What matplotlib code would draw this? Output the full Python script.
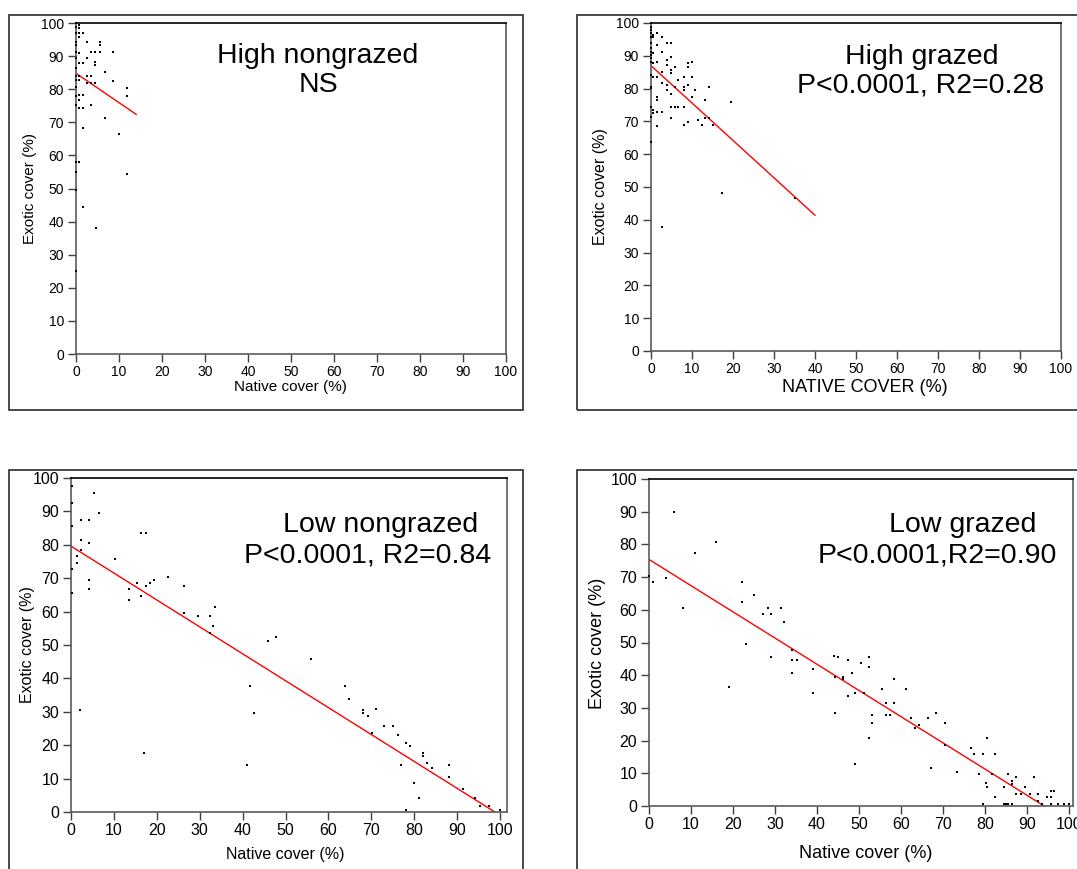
import matplotlib
matplotlib.use("Agg")
import matplotlib.pyplot as plt
from matplotlib.patches import Rectangle
import numpy as np

plt.rcParams['font.family'] = ['Liberation Sans', 'DejaVu Sans']

W, H = 1077, 869

# ---- data ----
# High nongrazed
hn_x = [0, 0, 0, 0, 0, 0, 0, 0, 0, 0, 0, 0, 0, 0, 0, 0, 0,
        0.8, 0.8, 0.8, 0.8, 0.8, 0.8, 0.8, 0.8, 0.8, 0.8, 0.8, 0.8,
        1.6, 1.6, 1.6, 1.6, 1.6, 1.7,
        2.6, 2.6, 2.6, 2.6, 3.6, 3.6, 3.6, 3.6,
        4.4, 4.4, 4.4, 4.4, 4.6, 5.5, 5.5, 5.5,
        6.8, 6.8, 8.7, 8.7, 9.9, 11.8, 11.8, 11.8]
hn_y = [99.9, 98.9, 96.9, 94.4, 93.4, 91.3, 89.3, 86.3, 83.9, 82.8, 80.8,
        75.2, 55.1, 25.2, 49.5, 58.0, 78.0,
        99.4, 98.4, 96.9, 95.9, 90.9, 87.8, 83.9, 82.8, 78.2, 76.7, 74.2, 58.1,
        96.9, 87.8, 78.2, 74.2, 68.4, 44.3,
        94.4, 89.3, 83.9, 81.8, 91.3, 83.9, 81.8, 75.2,
        91.3, 88.3, 87.3, 81.8, 38.0, 94.4, 93.4, 91.3,
        85.3, 71.2, 91.3, 82.6, 66.4, 80.3, 78.0, 54.3]
hn_fit = (84.8, -0.886, 14.0)   # intercept, slope, x end

# High grazed
hg_x = [0, 0, 0, 0, 0, 0, 0, 0, 0, 0, 0, 0, 0, 0, 0, 0, 0, 0,
        0.6, 0.6, 0.6, 0.6, 0.6, 0.6, 0.6,
        1.5, 1.5, 1.5, 1.5, 1.5, 1.5, 1.5, 1.5,
        2.7, 2.7, 2.7, 2.7, 2.7, 2.8,
        3.8, 3.8, 3.8, 3.8, 3.8,
        4.8, 4.8, 4.8, 4.8, 4.8, 4.8, 4.8,
        5.9, 5.9, 5.9, 6.7, 6.7,
        8.0, 8.0, 8.0, 8.0, 8.0,
        9.0, 9.0, 9.0, 9.0, 9.9, 9.9, 9.9, 10.8,
        11.5, 12.5, 13.2, 13.2, 14.2, 14.2, 15.1, 17.4, 19.5, 35.0]
hg_y = [100, 99.9, 98.9, 98.0, 96.8, 95.8, 93.8, 92.5, 91.3, 90.2, 89.2, 88.2,
        80.6, 80.1, 74.5, 71.4, 63.8, 84.0,
        96.3, 95.8, 90.8, 87.7, 83.6, 73.5, 72.5,
        96.8, 93.3, 88.2, 83.6, 77.5, 76.5, 73.0, 68.6,
        95.8, 91.3, 85.1, 81.6, 73.0, 37.9,
        93.8, 88.7, 87.2, 81.1, 79.5,
        93.8, 89.7, 85.7, 84.7, 78.5, 74.5, 71.0,
        86.7, 80.6, 74.5, 82.6, 74.5,
        83.6, 80.6, 79.5, 74.5, 68.9,
        87.7, 86.7, 81.1, 69.9, 88.2, 83.6, 77.5, 79.5,
        70.5, 69.0, 76.5, 71.0, 80.6, 71.0, 68.9, 48.1, 76.0, 46.5]
hg_fit = (87.0, -1.14, 40.0)

# Low nongrazed
ln_x = [0.2, 0.2, 0.2, 0.2, 0.2, 1.3, 1.3, 2.3, 2.3, 2.3, 4.3, 4.3, 4.3, 4.3,
        5.4, 6.5, 10.3, 13.4, 13.4, 15.3, 16.3, 17.4, 16.3, 17.4, 18.4, 19.4,
        22.5, 26.4, 26.4, 29.7, 32.4, 33.6, 33.0, 32.4,
        2.1, 16.9, 41.1, 41.7, 42.7, 45.8, 47.8, 55.9, 63.9, 64.7,
        68.0, 68.0, 69.2, 71.0, 70.2, 73.0, 75.1, 76.1, 78.0, 79.0, 76.9,
        82.0, 82.0, 82.9, 84.2, 80.0, 81.2, 78.0, 88.1, 88.1, 91.3, 94.2,
        95.3, 97.3, 100]
ln_y = [97.6, 92.4, 85.6, 72.7, 65.7, 76.6, 74.5, 87.4, 81.4, 78.4, 87.4,
        80.4, 69.5, 66.8, 95.6, 89.4, 75.7, 66.8, 63.5, 68.7, 83.4, 83.4,
        64.7, 67.7, 68.7, 69.5, 70.5, 67.7, 59.7, 58.7, 58.7, 61.5, 55.7, 53.5,
        30.5, 17.8, 14.0, 37.7, 29.7, 51.3, 52.5, 45.7, 37.7, 33.7,
        30.5, 29.7, 28.7, 30.7, 23.7, 25.7, 25.7, 23.1, 20.7, 19.8, 14.1,
        17.8, 16.8, 14.8, 13.1, 8.8, 4.1, 0.6, 14.1, 10.6, 6.8, 4.1,
        1.9, 1.9, 0.6]
ln_fit = (79.6, -0.806, 98.8)

# Low grazed
lg_x = [0, 0.9, 4.0, 5.9, 8.0, 11.0, 16.0, 22.1, 22.1, 23.1, 25.0, 27.1,
        28.3, 29.0, 31.4, 32.2, 29.0, 34.0, 34.0, 35.2, 39.1,
        19.1, 34.0, 39.1, 44.3, 44.3, 46.3, 46.3, 47.5, 48.3, 49.1, 49.1,
        51.2, 52.3, 53.2, 53.2, 55.6, 56.4, 56.4, 57.5, 58.3, 58.3,
        61.3, 62.5, 63.3, 64.4, 66.4, 67.2, 68.3, 70.6, 70.6, 73.4,
        76.6, 77.4, 78.6, 79.5, 80.4, 80.2, 80.6, 81.7, 82.5, 82.5, 79.5,
        84.5, 84.5, 85.0, 85.6, 85.6, 86.5, 86.4, 86.4, 87.4, 87.5, 88.5,
        89.6, 90.7, 91.6, 92.6, 92.6, 93.7, 94.7, 95.7, 96.5, 95.7, 95.7,
        97.5, 98.9, 100,
        44.0, 45.0, 47.5, 50.6, 52.3, 52.3]
lg_y = [70.3, 68.6, 69.8, 89.8, 60.6, 77.5, 80.6, 68.6, 62.5, 49.5, 64.5,
        58.7, 60.6, 58.7, 60.6, 56.4, 45.5, 47.7, 44.6, 44.6, 41.9,
        36.3, 40.8, 34.7, 39.6, 28.5, 39.6, 38.7, 33.6, 40.8, 34.7, 12.8,
        34.7, 20.7, 27.8, 25.5, 35.7, 31.6, 27.8, 27.8, 38.7, 31.6,
        35.7, 26.8, 23.8, 24.8, 26.8, 11.5, 28.5, 25.5, 18.7, 10.5,
        17.6, 15.9, 9.8, 15.9, 20.7, 7.1, 5.7, 9.8, 15.9, 2.7, 0.6,
        5.7, 0.6, 0.6, 9.8, 0.6, 0.6, 7.7, 6.7, 8.8, 3.7, 3.7,
        5.7, 3.7, 8.8, 3.7, 1.6, 0.6, 2.7, 4.7, 4.7, 2.7, 0.6,
        0.6, 0.6, 0.6,
        46.0, 45.5, 44.6, 43.6, 42.6, 45.5]
lg_fit = (75.4, -0.801, 94.1)

ticks = np.arange(0, 101, 10)

fig = plt.figure(figsize=(W / 100, H / 100), dpi=100)


def fx(px):
    return px / W


def fy(py):
    return 1 - py / H


def add_box(x0, y0, x1, y1):
    fig.patches.append(Rectangle((fx(x0), fy(y1)), fx(x1 - x0), (y1 - y0) / H,
                                 transform=fig.transFigure, fill=False,
                                 edgecolor='#3a3a3a', lw=1.3, clip_on=False))


def panel(box, x, y, fit, xmax, tsize, title, xlabel, ylabel, label_size, xlabel_size=None):
    x0, y0, x1, y1 = box
    ax = fig.add_axes([fx(x0), fy(y1), fx(x1 - x0), (y1 - y0) / H])
    ax.scatter(x, y, s=3, marker='s', color='black', linewidths=0, clip_on=False, zorder=3)
    b, m, xe = fit
    xl = np.array([0, xe])
    ax.plot(xl, b + m * xl, color='red', lw=1.0, zorder=2)
    ax.set_xlim(0, xmax)
    ax.set_ylim(0, 100)
    ax.set_xticks(ticks)
    ax.set_yticks(ticks)
    for s in ['left', 'bottom', 'right']:
        ax.spines[s].set_color('#5a5a5a')
        ax.spines[s].set_linewidth(1.2)
    ax.spines['top'].set_color('black')
    ax.spines['top'].set_linewidth(1.2)
    ax.tick_params(axis='y', direction='out', length=5.5, width=1, pad=3,
                   color='#404040', labelsize=tsize)
    ax.tick_params(axis='x', direction='out', length=6, width=1, pad=2,
                   color='#404040', labelsize=tsize)
    for (txt, px, py) in title:
        fig.text(fx(px), fy(py), txt, ha='center', va='baseline', fontsize=20.5)
    txt, px, py = xlabel
    fig.text(fx(px), fy(py), txt, ha='center', va='center',
             fontsize=xlabel_size or label_size)
    txt, px, py = ylabel
    fig.text(fx(px), fy(py), txt, ha='center', va='center', rotation=90, fontsize=label_size)
    return ax


add_box(9, 15, 523, 410)
add_box(577, 15, 1090, 410)
add_box(9, 470, 523, 880)
add_box(577, 470, 1090, 880)

panel((76, 23, 506, 354), hn_x, hn_y, hn_fit, 100, 10,
      [('High nongrazed', 318, 63), ('NS', 318, 92)],
      ('Native cover (%)', 290, 387), ('Exotic cover (%)', 30, 188), 11)
panel((651, 23, 1061, 351), hg_x, hg_y, hg_fit, 100, 10,
      [('High grazed', 922, 64), ('P<0.0001, R2=0.28', 921, 92)],
      ('NATIVE COVER (%)', 865, 388), ('Exotic cover (%)', 600, 187), 11.5, 13)
panel((71, 478, 507, 812), ln_x, ln_y, ln_fit, 101.6, 11.5,
      [('Low nongrazed', 381, 532), ('P<0.0001, R2=0.84', 368, 562)],
      ('Native cover (%)', 285, 855), ('Exotic cover (%)', 28, 645), 11.5)
panel((649, 479, 1073, 806), lg_x, lg_y, lg_fit, 101, 11.5,
      [('Low grazed', 963, 532), ('P<0.0001,R2=0.90', 937, 562)],
      ('Native cover (%)', 866, 853), ('Exotic cover (%)', 598, 643), 13)

fig.savefig('out.png', dpi=100)
